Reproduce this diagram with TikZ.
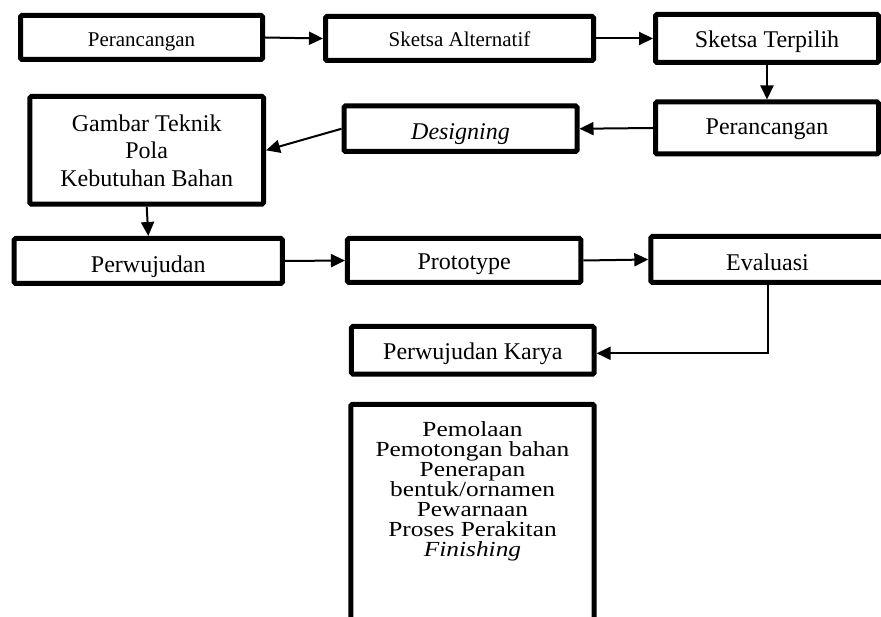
\documentclass[tikz,border=0pt]{standalone}
\usepackage{fontspec}
\setmainfont{Liberation Serif}
\newfontfamily\bbfont[FakeStretch=1.18]{Liberation Serif}
\usetikzlibrary{arrows.meta}
\newcommand\bbsetup{\bbfont\fontsize{21.5}{20}\selectfont\lineskiplimit=-100pt\relax}
\tikzset{
  box/.style={draw, line width=5pt, fill=white, rounded corners=1.5pt, inner sep=0pt,
    font=\fontsize{24}{27.5}\selectfont},
  small/.style={font=\fontsize{21}{24}\selectfont},
  one/.style={text depth=0pt, text height=#1},
  arr/.style={line width=2pt, -{Triangle[length=14pt,width=13pt]}},
}
\begin{document}
\begin{tikzpicture}[x=1pt,y=-1pt]
\useasboundingbox (0,0) rectangle (881,617);
% row 1
\node[box, small, one=18.4pt, minimum width=242pt, minimum height=44pt] (P1) at (141.5,37.5) {Perancangan};
\node[box, small, one=16.4pt, minimum width=268pt, minimum height=44pt] (SA) at (459.5,38.5) {Sketsa Alternatif};
\node[box, one=17.6pt, minimum width=223pt, minimum height=48pt] (ST) at (767,38.5) {Sketsa Terpilih};
% row 2
\node[box, one=14pt, minimum width=223pt, minimum height=52pt] (P2) at (767,128) {Perancangan};
\node[box, one=21pt, minimum width=233pt, minimum height=45.5pt] (D) at (460.5,128.75) {\itshape Designing};
\node[box, align=center, minimum width=233.7pt, minimum height=107.7pt] (G) at (146.7,150.3) {Gambar Teknik\\Pola\\Kebutuhan Bahan};
% row 3
\node[box, one=23.4pt, minimum width=268.3pt, minimum height=45pt] (PW) at (148.3,261) {Perwujudan};
\node[box, one=19pt, minimum width=233.5pt, minimum height=44pt] (PR) at (464.2,260.5) {Prototype};
\node[box, one=22.4pt, minimum width=233.4pt, minimum height=46pt] (E) at (767.5,259.5) {Evaluasi};
% row 4
\node[box, one=18pt, minimum width=242.7pt, minimum height=47.7pt] (PK) at (472.8,350.3) {Perwujudan Karya};
\node[box, anchor=north, minimum width=243.4pt, minimum height=300pt] (BB) at (472.5,401.8) {};
\node[align=center, inner sep=0pt, font=\bbsetup] (BBt) at (472.5,491.8)
  {Pemolaan\\Pemotongan bahan\\Penerapan\\bentuk/ornamen\\Pewarnaan\\Proses Perakitan\\\itshape Finishing};
% connectors
\draw[arr] (P1.east) -- (SA.west);
\draw[arr] (SA.east) -- (ST.west);
\draw[arr] (ST.south) -- (P2.north);
\draw[arr] (P2.west) -- (D.east);
\draw[arr] (D.west) -- (G.east);
\draw[arr] (G.south) -- (PW.north);
\draw[arr] (PW.east) -- (PR.west);
\draw[arr] (PR.east) -- (E.west);
\draw[arr] (E.south) |- ([yshift=-3pt]PK.east);
\end{tikzpicture}
\end{document}
